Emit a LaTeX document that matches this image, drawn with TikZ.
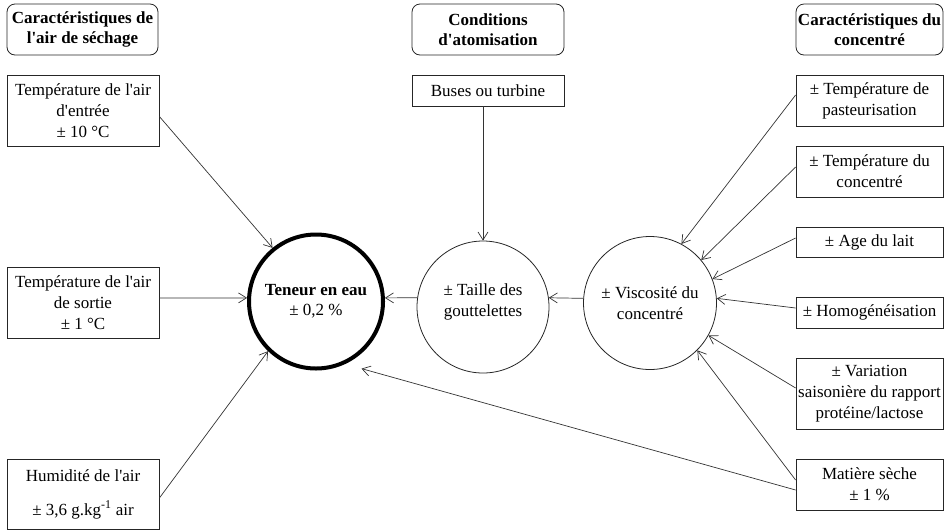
\documentclass[tikz,border=0pt]{standalone}
\usepackage{fontspec}
\setmainfont{Liberation Serif}[Ligatures=TeXOff]
\usetikzlibrary{arrows.meta}
\begin{document}
\begin{tikzpicture}[x=1pt,y=-1pt,
  every node/.style={font=\fontsize{17}{21}\selectfont, align=center, inner sep=1pt},
  hdr/.style={draw=black!85, line width=0.8pt, rounded corners=8pt, font=\fontsize{17}{20}\selectfont\bfseries},
  box/.style={draw=black!85, line width=0.8pt},
  ring/.style={draw=black!85, line width=0.8pt, circle},
  bigring/.style={draw=black, line width=4pt, circle},
  arr/.style={draw=black!80, line width=0.7pt, -{Straight Barb[length=8pt,width=10pt]}},
]
\useasboundingbox (0,0) rectangle (944,531);

% headers
\node[hdr, minimum width=151pt, minimum height=51pt] (h1) at (82.5,29.5) {Caractéristiques de\\l'air de séchage};
\node[hdr, minimum width=152pt, minimum height=51pt] (h2) at (488,29.5) {Conditions\\d'atomisation};
\node[hdr, minimum width=147pt, minimum height=51pt] (h3) at (869.5,29.5) {Caractéristiques du\\concentré};

% left boxes
\node[box, minimum width=152pt, minimum height=71pt] (entree) at (83,110.5) {Température de l'air\\d'entrée\\± 10 °C};
\node[box, minimum width=152pt, minimum height=71pt] (sortie) at (83,302.5) {Température de l'air\\de sortie\\± 1 °C};
\node[box, minimum width=152pt, minimum height=70pt] (humid) at (83,494) {Humidité de l'air\\[13pt]± 3,6 g.kg\textsuperscript{-1} air};

% middle
\node[box, minimum width=152pt, minimum height=31pt] (buses) at (488,90.5) {Buses ou turbine};

% right boxes
\node[box, minimum width=147pt, minimum height=51pt] (past) at (869.5,100.5) {± Température de\\pasteurisation};
\node[box, minimum width=147pt, minimum height=51pt] (tconc) at (869.5,171.5) {± Température du\\concentré};
\node[box, minimum width=147pt, minimum height=30pt] (age) at (869.5,242) {± Age du lait};
\node[box, minimum width=147pt, minimum height=31pt] (homog) at (869.5,312.5) {± Homogénéisation};
\node[box, minimum width=147pt, minimum height=71pt] (var) at (869.5,393.5) {± Variation\\saisonière du rapport\\protéine/lactose};
\node[box, minimum width=147pt, minimum height=51pt] (mat) at (869.5,484.5) {Matière sèche\\± 1 \%};

% circles
\node[bigring, minimum size=134pt, font=\fontsize{17}{20}\selectfont] (teneur) at (316,301.5) {\textbf{Teneur en eau}\\± 0,2 \%};
\node[ring, minimum size=132pt] (taille) at (483,307) {};
\node (tailletxt) at (483,302) {± Taille des\\gouttelettes};
\node[ring, minimum size=133pt] (visc) at (650,303) {± Viscosité du\\concentré};

% connectors left
\draw[arr] ([yshift=-6pt]entree.east) -- (teneur.129);
\draw[arr] ([yshift=4.5pt]sortie.east) -- (teneur.177);
\draw[arr] ([yshift=-4pt]humid.east) -- (teneur.226);

% middle
\draw[arr] (buses.south -| taille.north) -- (taille.north);
\draw[arr] (taille.172) -- (teneur.3);
\draw[arr] (visc.176) -- (taille.8);

% right
\draw[arr] ([yshift=5.5pt]past.west) -- (visc.62);
\draw[arr] ([yshift=4.5pt]tconc.west) -- (visc.40);
\draw[arr] ([yshift=4pt]age.west) -- (visc.21);
\draw[arr] ([yshift=4.5pt]homog.west) -- (visc.4);
\draw[arr] ([yshift=5.5pt]var.west) -- (visc.-29);
\draw[arr] ([yshift=4.5pt]mat.west) -- (visc.-45);
\draw[arr, shorten >=17pt] ([yshift=-5.5pt]mat.west) -- (teneur.-65);
\end{tikzpicture}
\end{document}
